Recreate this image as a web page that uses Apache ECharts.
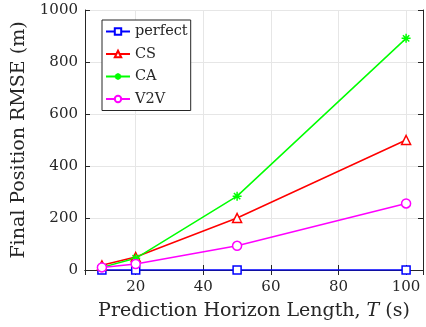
<!DOCTYPE html>
<html>
<head>
<meta charset="utf-8">
<script src="https://cdn.jsdelivr.net/npm/echarts@6/dist/echarts.min.js"></script>
<style>html,body{margin:0;padding:0;background:#fff;}#c{width:426px;height:327px;}</style>
</head>
<body>
<div id="c"></div>
<script>
const horizons = [10, 20, 50, 100];
const perfect = [0, 0, 0, 0];
const cs = [18, 50, 200, 500];
const ca = [10, 45, 284, 891];
const v2v = [10, 23, 93, 256];
const seriesNames = ['perfect', 'CS', 'CA', 'V2V'];
const xTicks = [20, 40, 60, 80, 100];
const yTicks = [0, 200, 400, 600, 800, 1000];

const FONT = 'DejaVu Serif';
const AX = '#262626';
const chart = echarts.init(document.getElementById('c'), null, {renderer: 'canvas'});
const pair = arr => horizons.map((x, i) => [x, arr[i]]);
const asterisk = 'path://M0,-10L0,10M-10,0L10,0M-7.07,-7.07L7.07,7.07M-7.07,7.07L7.07,-7.07';

function mk(name, data, color, symbol, size) {
  return {
    name, type: 'line', data: pair(data), xAxisIndex: 0, yAxisIndex: 0,
    symbol, symbolSize: size, showAllSymbol: true,
    lineStyle: {color, width: 1.5},
    itemStyle: {color: symbol === asterisk ? color : '#fff', borderColor: color, borderWidth: 1.5},
    emphasis: {disabled: true}, animation: false, z: 3
  };
}

const baseX = {
  type: 'value', min: 5, max: 105, splitNumber: 5, minInterval: 20, maxInterval: 20,
  axisLine: {show: true, lineStyle: {color: AX, width: 1}},
  axisTick: {show: true, inside: true, length: 5, lineStyle: {color: AX}},
};
const baseY = {
  type: 'value', min: 0, max: 1000, interval: 200,
  axisLine: {show: true, lineStyle: {color: AX, width: 1}},
  axisTick: {show: true, inside: true, length: 5, lineStyle: {color: AX}},
};

chart.setOption({
  animation: false,
  backgroundColor: '#fff',
  grid: {left: 85, top: 10, right: 3, bottom: 57, containLabel: false},
  legend: {
    data: seriesNames, orient: 'vertical', left: 102, top: 20,
    backgroundColor: '#fff', borderColor: AX, borderWidth: 1,
    padding: [4, 3, 4, 3], itemGap: 7.5, itemWidth: 24, itemHeight: 8,
    textStyle: {fontFamily: FONT, fontSize: 14.5, color: '#262626', lineHeight: 14},
    selectedMode: false
  },
  xAxis: [
    Object.assign({}, baseX, {
      position: 'bottom',
      splitLine: {show: true, lineStyle: {color: '#e6e6e6', width: 1}},
      axisLabel: {show: true, showMinLabel: false, showMaxLabel: false, margin: 10,
        fontFamily: FONT, fontSize: 15, color: '#262626',
        formatter: v => xTicks.includes(v) ? String(v) : ''},
      name: '{a|Prediction Horizon Length, }{i|T}{a| (s)}',
      nameLocation: 'middle', nameGap: 32,
      nameTextStyle: {rich: {
        a: {fontFamily: FONT, fontSize: 19, color: '#262626'},
        i: {fontFamily: FONT, fontSize: 19, fontStyle: 'italic', color: '#262626'}}}
    }),
    Object.assign({}, baseX, {position: 'top', axisLabel: {show: false}, splitLine: {show: false}})
  ],
  yAxis: [
    Object.assign({}, baseY, {
      position: 'left',
      splitLine: {show: true, lineStyle: {color: '#e6e6e6', width: 1}},
      axisLabel: {show: true, margin: 7, fontFamily: FONT, fontSize: 15, color: '#262626',
        formatter: v => yTicks.includes(v) ? String(v) : ''},
      name: 'Final Position RMSE (m)', nameLocation: 'middle', nameGap: 53, nameRotate: 90,
      nameTextStyle: {fontFamily: FONT, fontSize: 19, color: '#262626'}
    }),
    Object.assign({}, baseY, {position: 'right', axisLabel: {show: false}, splitLine: {show: false}})
  ],
  series: [
    mk('perfect', perfect, '#0000ff', 'rect', 8),
    mk('CS', cs, '#ff0000', 'triangle', 9),
    mk('CA', ca, '#00ff00', asterisk, 9),
    mk('V2V', v2v, '#ff00ff', 'circle', 9)
  ]
});
</script>
</body>
</html>
